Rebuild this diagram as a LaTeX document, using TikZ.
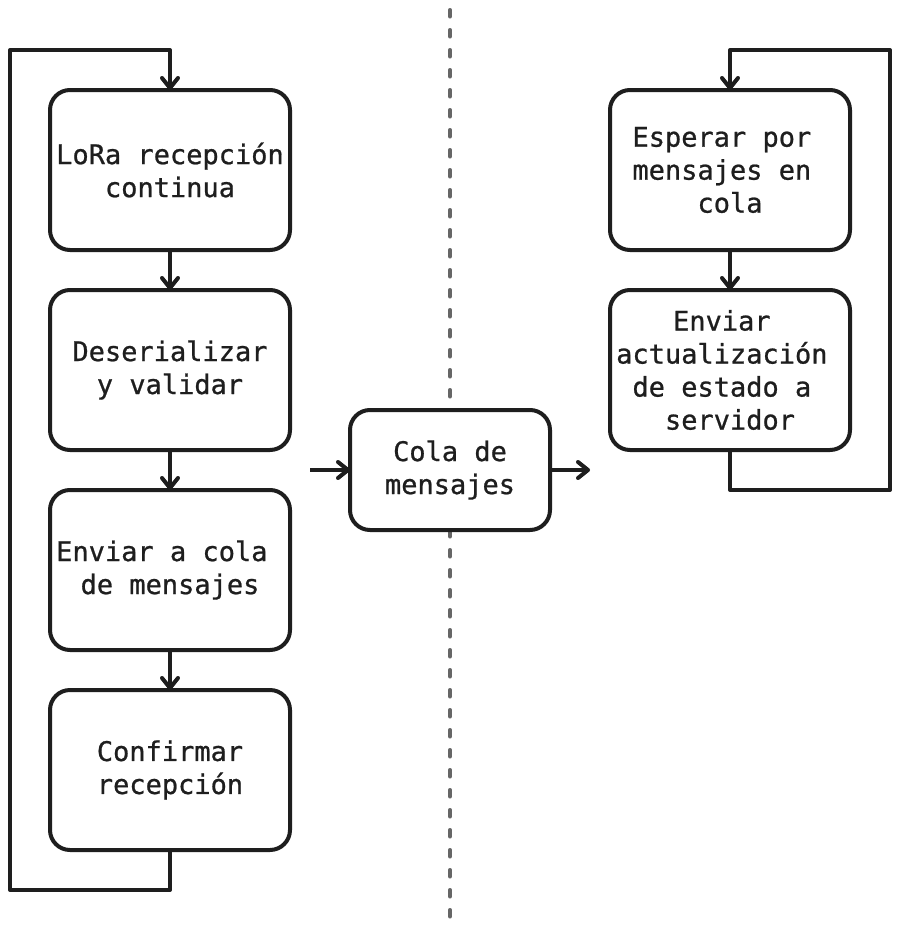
\documentclass[tikz,border=0pt]{standalone}
\usepackage{fontspec}
\newfontfamily\boxfont[FakeBold=0.8]{DejaVu Sans Mono}
\usetikzlibrary{arrows.meta}
\definecolor{ink}{HTML}{1E1E1E}
\definecolor{sep}{HTML}{666666}
\tikzset{
  stepbox/.style={draw=ink, fill=white, line width=4pt, rounded corners=20pt,
    minimum width=240pt, minimum height=160pt, inner sep=0pt, outer sep=0pt,
    align=center, text=ink, font=\boxfont\fontsize{27}{33}\selectfont},
  arr/.style={draw=ink, line width=4pt, line join=round,
    -{Straight Barb[length=10pt,width=16pt,line cap=round,line join=round]}},
  sepline/.style={draw=sep, line width=3.5pt, line cap=round, dash pattern=on 7pt off 13pt}
}
\newcommand{\tsp}{\hphantom{x}}
\begin{document}
\begin{tikzpicture}[x=1pt,y=-1pt]
\useasboundingbox (0,0) rectangle (900,940);
\fill[white] (0,0) rectangle (900,940);
\draw[sepline] (450,9.75) -- (450,920);
% left column
\node[stepbox] (n1) at (170,170) {LoRa recepción\\continua};
\node[stepbox] (n2) at (170,370) {Deserializar\\y validar};
\node[stepbox] (n3) at (170,570) {Enviar a cola\tsp\\de mensajes};
\node[stepbox] (n4) at (170,770) {Confirmar\\recepción};
% center
\node[stepbox, minimum width=200pt, minimum height=120pt] (cq) at (450,470) {Cola de\\mensajes};
% right column
\node[stepbox] (r1) at (730,170) {Esperar por\tsp\\mensajes en\tsp\\cola};
\node[stepbox] (r2) at (730,370) {Enviar\tsp\\actualización\tsp\\de estado a\tsp\\servidor};
% coordinates
\coordinate (lc1) at (10,890);
\coordinate (lc2) at (10,50);
\coordinate (rc1) at (890,490);
\coordinate (rc2) at (890,50);
\coordinate (cin) at (310,470);
\coordinate (cout) at (590,470);
% connectors
\draw[arr] (n1.south) -- (n2.north);
\draw[arr] (n2.south) -- (n3.north);
\draw[arr] (n3.south) -- (n4.north);
\draw[arr] (n4.south) |- (lc1) -- (lc2) -| (n1.north);
\draw[arr] (r1.south) -- (r2.north);
\draw[arr] (r2.south) |- (rc1) -- (rc2) -| (r1.north);
\draw[arr] (cin) -- (cq.west);
\draw[arr] (cq.east) -- (cout);
\end{tikzpicture}
\end{document}
